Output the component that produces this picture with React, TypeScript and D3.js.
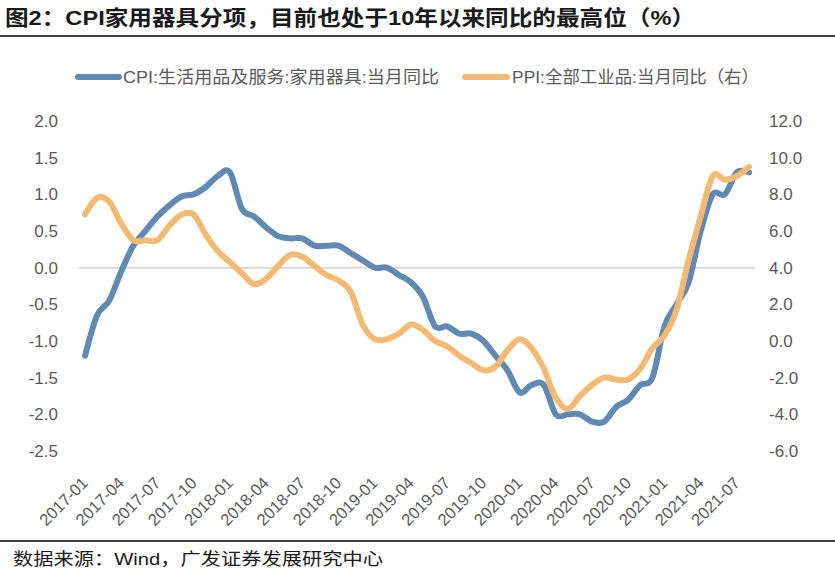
import React from "react";
import * as d3 from "d3";

const title = "图2：CPI家用器具分项，目前也处于10年以来同比的最高位（%）";
const source = "数据来源：Wind，广发证券发展研究中心";
const cpiName = "CPI:生活用品及服务:家用器具:当月同比";
const ppiName = "PPI:全部工业品:当月同比（右）";

// monthly categories 2017-01 .. 2021-08
const months: string[] = [];
for (let y = 2017; y <= 2021; y++) {
  for (let m = 1; m <= 12; m++) {
    if (y === 2021 && m > 8) break;
    months.push(`${y}-${String(m).padStart(2, "0")}`);
  }
}

const xTickLabels = [
  "2017-01", "2017-04", "2017-07", "2017-10",
  "2018-01", "2018-04", "2018-07", "2018-10",
  "2019-01", "2019-04", "2019-07", "2019-10",
  "2020-01", "2020-04", "2020-07", "2020-10",
  "2021-01", "2021-04", "2021-07",
];

const cpi = [
  -1.2, -0.65, -0.45, -0.05, 0.3, 0.5, 0.7, 0.85, 0.97, 1.0, 1.1, 1.25,
  1.3, 0.8, 0.7, 0.55, 0.43, 0.4, 0.4, 0.3, 0.3, 0.3, 0.2, 0.1,
  0.0, 0.0, -0.1, -0.2, -0.4, -0.8, -0.8, -0.9, -0.9, -1.0, -1.2, -1.4,
  -1.7, -1.6, -1.6, -2.0, -2.0, -2.0, -2.1, -2.1, -1.9, -1.8, -1.6, -1.5,
  -0.8, -0.5, -0.2, 0.5, 1.0, 1.0, 1.3, 1.3,
];

const ppi = [
  6.9, 7.8, 7.6, 6.4, 5.5, 5.5, 5.5, 6.3, 6.9, 6.9, 5.8, 4.9,
  4.3, 3.7, 3.1, 3.4, 4.1, 4.7, 4.6, 4.1, 3.6, 3.3, 2.7, 0.9,
  0.1, 0.1, 0.4, 0.9, 0.6, 0.0, -0.3, -0.8, -1.2, -1.6, -1.4, -0.5,
  0.1, -0.4, -1.5, -3.1, -3.7, -3.0, -2.4, -2.0, -2.1, -2.1, -1.5, -0.4,
  0.3, 1.7, 4.4, 6.8, 9.0, 8.8, 9.0, 9.5,
];

const leftTicks = [2.0, 1.5, 1.0, 0.5, 0.0, -0.5, -1.0, -1.5, -2.0, -2.5];
const rightTicks = [12, 10, 8, 6, 4, 2, 0, -2, -4, -6];

const W = 835;
const H = 578;
const blue = "#6089B4";
const orange = "#F2BA72";
const labelColor = "#595959";
const font = "'Liberation Sans', Arial, 'Noto Sans CJK SC', sans-serif";
const fmt = (v: number) => d3.format(".1f")(v).replace("\u2212", "-");

export default function App() {
  const x = d3.scaleBand<number>().domain(months.map((_, i) => i)).range([79, 755]).padding(0);
  const cx = (i: number) => (x(i) as number) + x.bandwidth() / 2;
  const yL = d3.scaleLinear().domain([-2.5, 2.0]).range([451, 121]);
  const yR = d3.scaleLinear().domain([-6, 12]).range([451, 121]);

  const lineL = d3.line<number>().x((_, i) => cx(i)).y((d) => yL(d)).curve(d3.curveCardinal.tension(0));
  const lineR = d3.line<number>().x((_, i) => cx(i)).y((d) => yR(d)).curve(d3.curveCardinal.tension(0));

  return (
    <svg width={W} height={H} style={{ position: "absolute", left: 0, top: 0, background: "#fff" }}>
      <rect x={0} y={0} width={W} height={H} fill="#fff" />
      <text x={5} y={25} fontSize={21} fontWeight="bold" fill="#1a1a1a"
        fontFamily={font} textLength={690} lengthAdjust="spacingAndGlyphs">{title}</text>
      <line x1={0} x2={W} y1={36} y2={36} stroke="#000" strokeWidth={1.5} />

      {/* legend */}
      <line x1={78} x2={119} y1={77} y2={77} stroke={blue} strokeWidth={6} strokeLinecap="round" />
      <text x={123} y={83} fontSize={17} fill={labelColor} fontFamily={font}
        textLength={316} lengthAdjust="spacingAndGlyphs">{cpiName}</text>
      <line x1={465} x2={507} y1={77} y2={77} stroke={orange} strokeWidth={6} strokeLinecap="round" />
      <text x={512} y={83} fontSize={17} fill={labelColor} fontFamily={font}
        textLength={247} lengthAdjust="spacingAndGlyphs">{ppiName}</text>

      {/* zero line */}
      <line x1={79} x2={755} y1={yL(0)} y2={yL(0)} stroke="#d9d9d9" strokeWidth={2} />

      {/* left axis labels */}
      {leftTicks.map((t) => (
        <text key={"l" + t} x={58} y={yL(t)} dy="0.36em" textAnchor="end" fontSize={17}
          fill={labelColor} fontFamily={font}>{fmt(t)}</text>
      ))}
      {/* right axis labels */}
      {rightTicks.map((t) => (
        <text key={"r" + t} x={769} y={yR(t)} dy="0.36em" textAnchor="start" fontSize={17}
          fill={labelColor} fontFamily={font}>{fmt(t)}</text>
      ))}

      {/* x labels */}
      {xTickLabels.map((lab) => {
        const i = months.indexOf(lab);
        const px = cx(i) + 4;
        const py = 484;
        return (
          <text key={lab} x={px} y={py} textAnchor="end" fontSize={16.5} fill={labelColor}
            fontFamily={font} transform={`rotate(-45 ${px} ${py})`}>{lab}</text>
        );
      })}

      {/* series */}
      <path d={lineL(cpi) || ""} fill="none" stroke={blue} strokeWidth={6} strokeLinejoin="round" strokeLinecap="round" />
      <path d={lineR(ppi) || ""} fill="none" stroke={orange} strokeWidth={6} strokeLinejoin="round" strokeLinecap="round" />

      {/* footer */}
      <line x1={0} x2={W} y1={541} y2={541} stroke="#000" strokeWidth={1.5} />
      <text x={13} y={565} fontSize={17} fill="#1a1a1a" fontFamily={font}
        textLength={370} lengthAdjust="spacingAndGlyphs">{source}</text>
    </svg>
  );
}
